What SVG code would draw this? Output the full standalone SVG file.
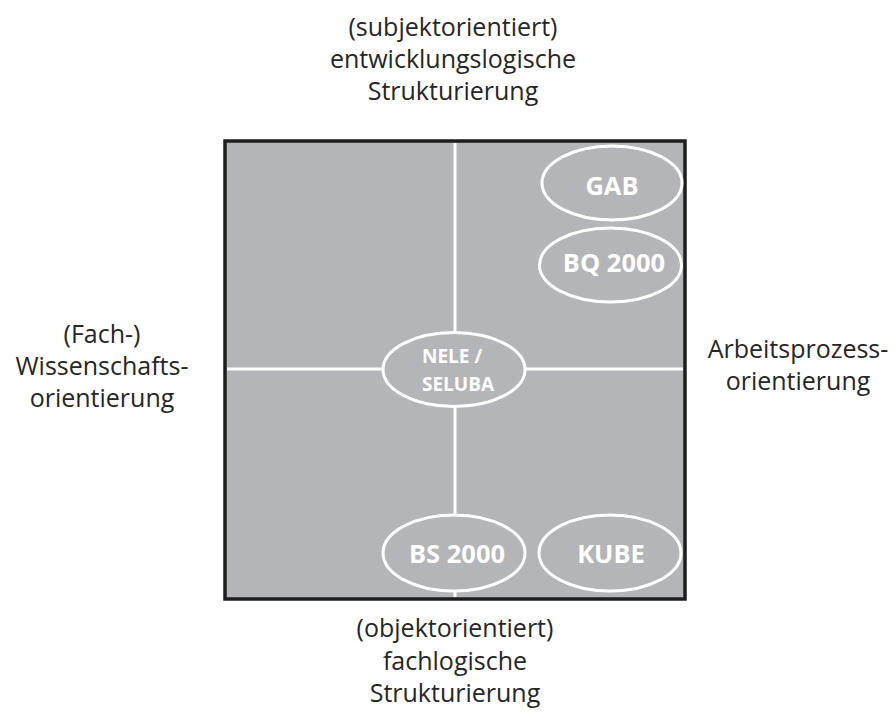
<svg xmlns="http://www.w3.org/2000/svg" width="896" height="718" viewBox="0 0 896 718">
<style>
.lbl{font-family:"Open Sans","Liberation Sans",sans-serif;font-size:25px;fill:#262626;text-anchor:middle}
.nd{fill:#b4b5b8;stroke:#ffffff;stroke-width:3}
.nt{font-family:"Open Sans","Liberation Sans",sans-serif;font-weight:bold;font-size:25.5px;fill:#ffffff;text-anchor:middle}
.ax{stroke:#ffffff;stroke-width:3;fill:none}
</style>
<rect width="896" height="718" fill="#ffffff"/>
<g id="frame">
<rect x="225" y="141" width="460" height="458" fill="#b4b5b8" stroke="#1e1e1e" stroke-width="3.5"/>
</g>
<g id="connectors">
<line class="ax" x1="455" y1="143" x2="455" y2="597"/>
<line class="ax" x1="227" y1="369" x2="683" y2="369"/>
</g>
<g id="label-top">
<text class="lbl" x="453" y="36">(subjektorientiert)</text>
<text class="lbl" x="453" y="68">entwicklungslogische</text>
<text class="lbl" x="453" y="100">Strukturierung</text>
</g>
<g id="label-bottom">
<text class="lbl" x="455" y="637">(objektorientiert)</text>
<text class="lbl" x="455" y="670">fachlogische</text>
<text class="lbl" x="455" y="702">Strukturierung</text>
</g>
<g id="label-left">
<text class="lbl" x="102" y="343">(Fach-)</text>
<text class="lbl" x="102" y="375">Wissenschafts-</text>
<text class="lbl" x="102" y="407">orientierung</text>
</g>
<g id="label-right">
<text class="lbl" x="798" y="358">Arbeitsprozess-</text>
<text class="lbl" x="798" y="390">orientierung</text>
</g>
<g id="node-gab">
<ellipse class="nd" cx="612" cy="183" rx="70" ry="37"/>
<text class="nt" x="612" y="195">GAB</text>
</g>
<g id="node-bq2000">
<ellipse class="nd" cx="610.5" cy="265" rx="71" ry="37"/>
<text class="nt" x="614" y="272">BQ 2000</text>
</g>
<g id="node-nele">
<ellipse class="nd" cx="454" cy="369.5" rx="71" ry="37"/>
<text class="nt" x="422" y="363" style="font-size:19px;text-anchor:start">NELE /</text>
<text class="nt" x="422" y="391" style="font-size:19px;text-anchor:start">SELUBA</text>
</g>
<g id="node-bs2000">
<ellipse class="nd" cx="454" cy="553" rx="71" ry="38"/>
<text class="nt" x="457" y="563">BS 2000</text>
</g>
<g id="node-kube">
<ellipse class="nd" cx="610" cy="553" rx="71" ry="38"/>
<text class="nt" x="611" y="563">KUBE</text>
</g>
</svg>
